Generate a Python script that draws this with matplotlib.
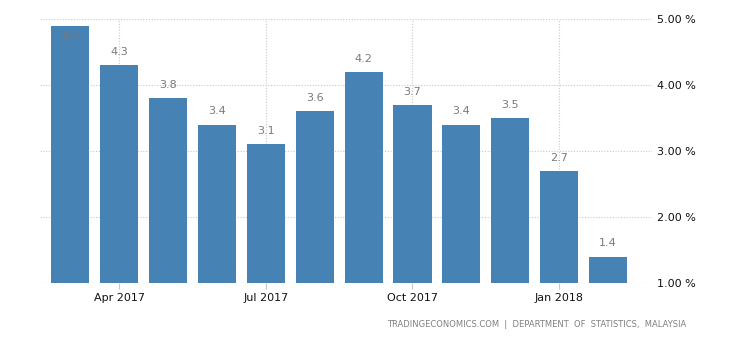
import matplotlib.pyplot as plt
import numpy as np

# ── Data ─────────────────────────────────────────────────────────────────────
months = ["Mar 2017", "Apr 2017", "May 2017", "Jun 2017", "Jul 2017", "Aug 2017",
          "Sep 2017", "Oct 2017", "Nov 2017", "Dec 2017", "Jan 2018", "Feb 2018"]
inflation = [4.9, 4.3, 3.8, 3.4, 3.1, 3.6, 4.2, 3.7, 3.4, 3.5, 2.7, 1.4]
tick_labels = ["Apr 2017", "Jul 2017", "Oct 2017", "Jan 2018"]
y_ticks = [1.0, 2.0, 3.0, 4.0, 5.0]

BAR_COLOR = "#4682B4"
GRID_COLOR = "#c8c8c8"

fig = plt.figure(figsize=(7.3, 3.4), dpi=100)
ax = fig.add_axes([0.055, 0.1676, 0.838, 0.7765])

xs = np.arange(len(months))
ax.bar(xs, inflation, width=0.78, bottom=0, color=BAR_COLOR, zorder=3)

ax.set_ylim(1.0, 5.0)
ax.set_xlim(-0.62, 11.9)

# value labels
for x, v in zip(xs, inflation):
    if v > 4.7:
        ax.text(x, v - 0.16, f"{v:.1f}", ha="center", va="center",
                fontsize=8, color="#7a7a7a", zorder=4)
    else:
        ax.text(x, v + 0.2, f"{v:.1f}", ha="center", va="center",
                fontsize=8, color="#7a7a7a", zorder=4)

# axes styling
ax.yaxis.tick_right()
ax.set_yticks(y_ticks)
ax.set_yticklabels([f"{t:.2f} %" for t in y_ticks], fontsize=8, color="#111111")
ax.tick_params(axis="y", length=0, pad=4)

tick_pos = [months.index(t) for t in tick_labels]
ax.set_xticks(tick_pos)
ax.set_xticklabels(tick_labels, fontsize=8, color="#111111")
ax.tick_params(axis="x", length=4, color=GRID_COLOR, pad=3)

ax.grid(True, axis="both", linestyle=(0, (1, 1.5)), color=GRID_COLOR, linewidth=0.8, zorder=0)
for s in ax.spines.values():
    s.set_visible(False)
ax.axhline(1.0, linestyle=(0, (1, 1.5)), color=GRID_COLOR, linewidth=0.8, zorder=1)

fig.text(0.94, 0.045, "TRADINGECONOMICS.COM  |  DEPARTMENT  OF  STATISTICS,  MALAYSIA",
         ha="right", va="center", fontsize=6, color="#808080")

plt.savefig("out.png", dpi=100)
plt.close()
